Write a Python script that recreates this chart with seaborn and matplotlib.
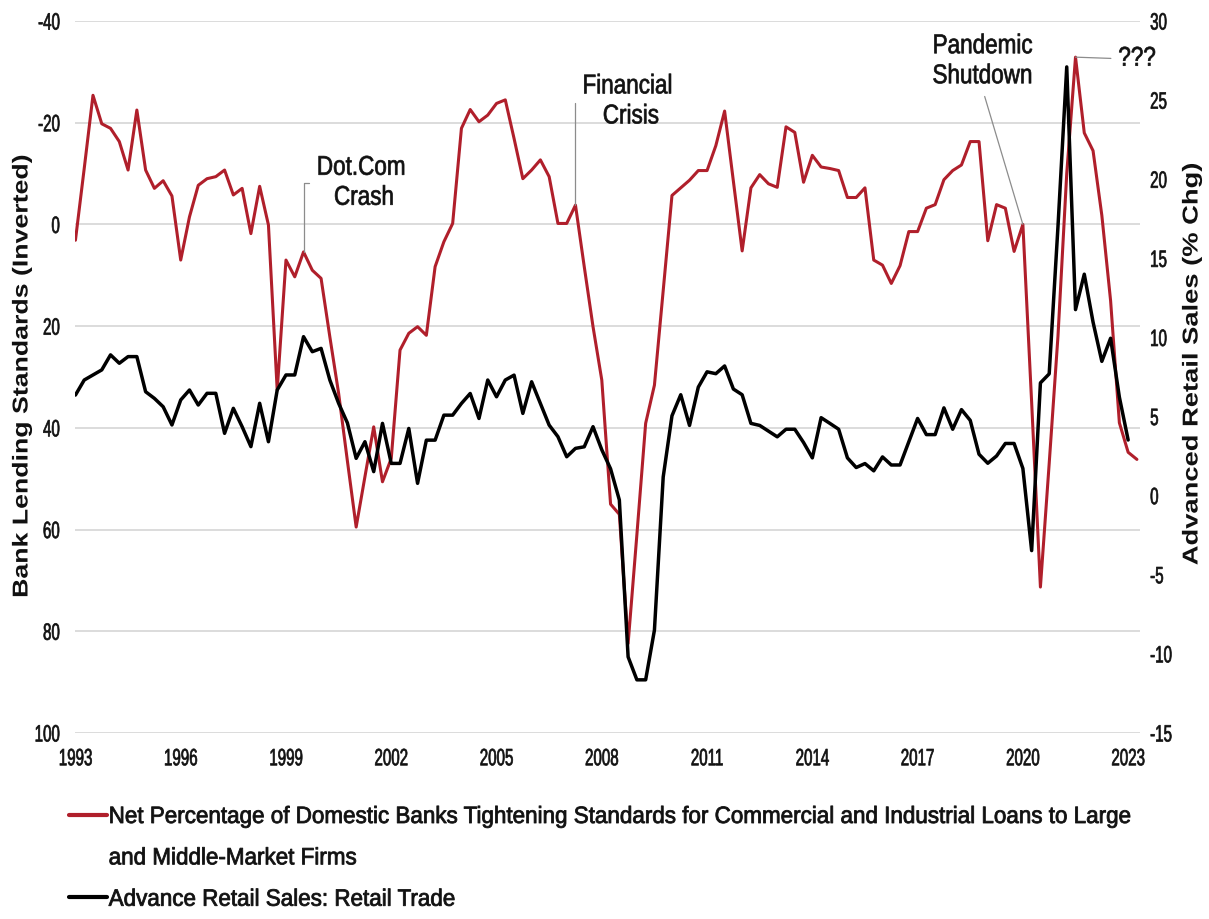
import numpy as np
import pandas as pd
import matplotlib
matplotlib.use("Agg")
import matplotlib.pyplot as plt
from matplotlib.lines import Line2D
from matplotlib.patheffects import AbstractPathEffect
from matplotlib.transforms import Affine2D
import seaborn as sns

# ---------------- data (quarterly) ----------------
start_quarter = "1993Q1"

bank_tightening = [
    3.1, -11.0, -25.4, -19.8,      # 1993
    -18.9, -16.3, -10.7, -22.5,    # 1994
    -10.7, -7.1, -8.6, -5.6,       # 1995
    7.0, -1.5, -7.7, -9.0,         # 1996
    -9.4, -10.7, -5.8, -7.1,       # 1997
    1.8, -7.5, 0.1, 32.6,          # 1998
    7.0, 10.3, 5.4, 9.0,           # 1999
    10.6, 22.1, 33.2, 46.5,        # 2000
    59.5, 49.6, 39.8, 50.6,        # 2001
    46.0, 24.7, 21.4, 20.1,        # 2002
    21.8, 8.3, 3.4, -0.2,          # 2003
    -18.9, -22.6, -20.2, -21.5,    # 2004
    -23.8, -24.5, -16.9, -9.0,     # 2005
    -10.7, -12.7, -9.4, -0.2,      # 2006
    -0.2, -3.8, 8.3, 20.1,         # 2007
    30.6, 55.0, 57.0, 82.4,        # 2008
    61.0, 39.1, 31.6, 13.0,        # 2009
    -5.7, -7.2, -8.7, -10.6,       # 2010
    -10.6, -15.5, -22.3, -8.5,     # 2011
    5.2, -7.2, -9.8, -8.0,         # 2012
    -7.3, -19.2, -18.1, -8.3,      # 2013
    -13.6, -11.3, -11.0, -10.6,    # 2014
    -5.3, -5.3, -7.2, 7.0,         # 2015
    8.0, 11.6, 8.1, 1.4,           # 2016
    1.4, -3.2, -3.9, -8.8,         # 2017
    -10.6, -11.7, -16.3, -16.3,    # 2018
    3.2, -3.9, -3.2, 5.3,          # 2019
    0.0, 35.0, 71.3, 47.0,         # 2020
    22.0, -10.0, -32.9, -18.0,     # 2021
    -14.5, -1.8, 15.0, 39.0,       # 2022
    44.8, 46.2,                    # 2023
]

retail_sales = [
    6.36, 7.31, 7.63, 7.95,        # 1993
    8.9, 8.37, 8.79, 8.79,         # 1994
    6.57, 6.15, 5.62, 4.47,        # 1995
    6.05, 6.68, 5.73, 6.47,        # 1996
    6.47, 3.94, 5.52, 4.36,        # 1997
    3.10, 5.84, 3.41, 6.68,        # 1998
    7.63, 7.63, 10.05, 9.1,        # 1999
    9.31, 7.31, 5.84, 4.6,         # 2000
    2.36, 3.41, 1.52, 4.57,        # 2001
    2.04, 2.04, 4.25, 0.78,        # 2002
    3.51, 3.51, 5.09, 5.09,        # 2003
    5.83, 6.46, 4.88, 7.31,        # 2004
    6.25, 7.31, 7.62, 5.2,         # 2005
    7.2, 5.83, 4.46, 3.73,         # 2006
    2.46, 2.99, 3.09, 4.36,        # 2007
    2.9, 1.7, -0.27, -10.19,       # 2008
    -11.64, -11.64, -8.5, 1.18,    # 2009
    5.05, 6.38, 4.44, 6.86,        # 2010
    7.83, 7.71, 8.2, 6.74,         # 2011
    6.38, 4.57, 4.44, 4.08,        # 2012
    3.72, 4.2, 4.2, 3.36,          # 2013
    2.39, 4.93, 4.57, 4.2,         # 2014
    2.39, 1.78, 2.03, 1.57,        # 2015
    2.45, 1.94, 1.94, 3.41,        # 2016
    4.88, 3.86, 3.86, 5.55,        # 2017
    4.2, 5.44, 4.76, 2.62,         # 2018
    2.05, 2.51, 3.3, 3.3,          # 2019
    1.72, -3.47, 7.13, 7.7,        # 2020
    17.0, 27.1, 11.76, 14.0,       # 2021
    10.97, 8.49, 9.95, 6.23,       # 2022
    3.52,                          # 2023
]

left_ticks = [-40, -20, 0, 20, 40, 60, 80, 100]
right_ticks = [-15, -10, -5, 0, 5, 10, 15, 20, 25, 30]
year_ticks = [1993, 1996, 1999, 2002, 2005, 2008, 2011, 2014, 2017, 2020, 2023]

label_red = "Net Percentage of Domestic Banks Tightening Standards for Commercial and Industrial Loans to Large"
label_red2 = "and Middle-Market Firms"
label_black = "Advance Retail Sales: Retail Trade"
left_axis_title = "Bank Lending Standards (Inverted)"
right_axis_title = "Advanced Retail Sales (% Chg)"

annotation_texts = ["Dot.Com\nCrash", "Financial\nCrisis", "Pandemic\nShutdown", "???"]
annotation_points = [(1999.5, 5.4), (2007.25, -3.8), (2020.0, 0.0), (2021.5, -32.9)]


# ---------------- helpers ----------------
class Squeeze(AbstractPathEffect):
    """Scale glyphs horizontally (condensed/wide look of the reference font),
    optionally thickening them with a thin outline."""
    def __init__(self, sx, anchor="center", lw=0.0):
        super().__init__()
        self.sx = sx
        self.anchor = anchor
        self.lw = lw

    def draw_path(self, renderer, gc, tpath, affine, rgbFace=None):
        ext = tpath.get_extents()
        if self.anchor == "left":
            a = 0.0
        elif self.anchor == "right":
            a = ext.x1
        else:
            a = 0.5 * (ext.x0 + ext.x1)
        t = Affine2D().translate(-a, 0).scale(self.sx, 1.0).translate(a, 0)
        gc0 = renderer.new_gc()
        gc0.copy_properties(gc)
        if self.lw > 0 and rgbFace is not None:
            gc0.set_linewidth(self.lw)
            gc0.set_foreground(rgbFace)
            gc0.set_joinstyle("round")
        renderer.draw_path(gc0, tpath, t + affine, rgbFace)
        gc0.restore()


def to_decimal_year(periods):
    return periods.year + (periods.quarter - 1) / 4.0


p_red = pd.period_range(start_quarter, periods=len(bank_tightening), freq="Q")
p_blk = pd.period_range(start_quarter, periods=len(retail_sales), freq="Q")
df_red = pd.DataFrame({"date": to_decimal_year(p_red), "value": bank_tightening})
df_blk = pd.DataFrame({"date": to_decimal_year(p_blk), "value": retail_sales})

# ---------------- style ----------------
sns.set_style("white")
plt.rcParams["font.family"] = ["Liberation Sans", "DejaVu Sans"]

RED = "#B01F2B"
GRID = "#D9D9D9"
INK = "#111111"

fig = plt.figure(figsize=(12.09, 9.19), dpi=100)
ax = fig.add_axes([0.0624, 0.2024, 0.8803, 0.7747])
ax2 = ax.twinx()

sns.lineplot(data=df_red, x="date", y="value", ax=ax, color=RED, linewidth=2.2, legend=False)
sns.lineplot(data=df_blk, x="date", y="value", ax=ax2, color="black", linewidth=2.5, legend=False)

ax.set_xlim(1993, 2023.33)
ax.set_ylim(100, -40)
ax2.set_ylim(-15, 30)

ax.set_yticks(left_ticks)
ax2.set_yticks(right_ticks)
ax.set_xticks(year_ticks)
ax.set_xticklabels([str(y) for y in year_ticks])
ax.set_yticklabels([str(v) for v in left_ticks])
ax2.set_yticklabels([str(v) for v in right_ticks])

ax.grid(axis="y", color=GRID, linewidth=1.3)
ax.grid(axis="x", visible=False)
ax2.grid(False)
for a in (ax, ax2):
    for s in a.spines.values():
        s.set_visible(False)

ax.tick_params(axis="y", length=0, pad=11, labelsize=17, labelcolor=INK)
ax.tick_params(axis="x", length=0, pad=11, labelsize=17, labelcolor=INK)
ax2.tick_params(axis="y", length=0, pad=7.5, labelsize=17, labelcolor=INK)
ax.set_xlabel("")
ax.set_ylabel("")
ax2.set_ylabel("")

for t in ax.get_yticklabels():
    t.set_path_effects([Squeeze(0.64, "right", 0.5)])
for t in ax.get_xticklabels():
    t.set_path_effects([Squeeze(0.64, "center", 0.5)])
for t in ax2.get_yticklabels():
    t.set_path_effects([Squeeze(0.64, "left", 0.5)])

lt = fig.text(22 / 1209, 1 - 376 / 919, left_axis_title, rotation=90,
              ha="center", va="center", fontsize=15.5, fontweight="bold",
              family=["Liberation Sans", "DejaVu Sans"], color=INK)
lt.set_path_effects([Squeeze(1.24, "center")])
rt = fig.text(1192 / 1209, 1 - 364 / 919, right_axis_title, rotation=90,
              ha="center", va="center", fontsize=15.5, fontweight="bold",
              family=["Liberation Sans", "DejaVu Sans"], color=INK)
rt.set_path_effects([Squeeze(1.27, "center")])

# annotations (text positions in left-axis data units)
annotation_layout = [
    ((1999.88, -8.2), "left", (0.0, 0.5), "angle,angleA=0,angleB=90,rad=0"),
    ((2007.45, -24.2), "left", (0.0, 0.5), "angle,angleA=0,angleB=90,rad=0"),
    ((2018.85, -32.1), "center", (0.5, 0.0), "arc3,rad=0"),
    ((2022.72, -32.6), "left", (0.0, 0.5), "arc3,rad=0"),
]
for text, xy, (xyt, ha, relpos, conn) in zip(annotation_texts, annotation_points, annotation_layout):
    ann = ax2.annotate(text, xy=xy, xytext=xyt, xycoords=ax.transData, textcoords=ax.transData,
                       ha=ha, va="center", multialignment="center", fontsize=19.5,
                       color=INK, zorder=5,
                       arrowprops=dict(arrowstyle="-", color="#8C8C8C", lw=0.9,
                                       connectionstyle=conn, relpos=relpos,
                                       shrinkA=3, shrinkB=0))
    ann.set_path_effects([Squeeze(0.83, "left" if ha == "left" else "center", 0.5)])

# legend
red_line = ax.lines[0]
blk_line = ax2.lines[0]
blank = Line2D([], [], color="none")
leg = fig.legend(handles=[red_line, blank, blk_line], labels=[label_red, label_red2, label_black],
                 loc="upper left", bbox_to_anchor=(69 / 1209, 1 - 806 / 919),
                 frameon=False, fontsize=17, handlelength=1.6, handletextpad=0.08,
                 labelspacing=0.82, borderpad=0, borderaxespad=0)
for t in leg.get_texts():
    t.set_color(INK)
    t.set_path_effects([Squeeze(0.95, "left", 0.6)])
for h in leg.get_lines():
    h.set_linewidth(3.0)

fig.savefig("out.png", dpi=100)
